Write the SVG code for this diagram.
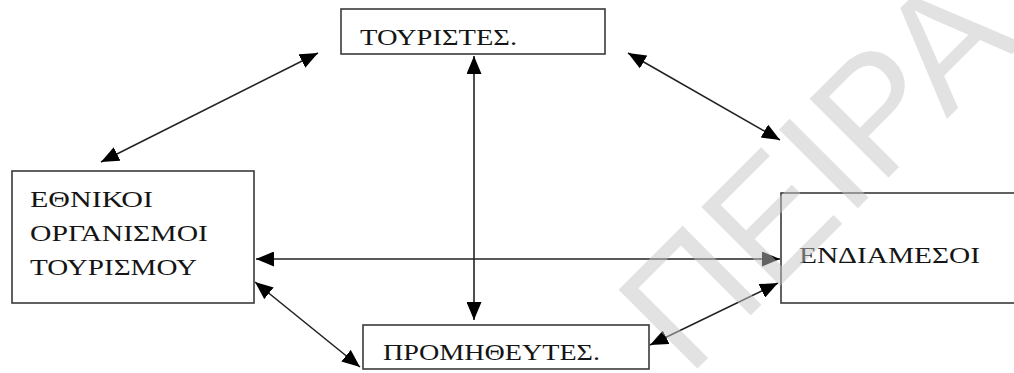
<svg xmlns="http://www.w3.org/2000/svg" width="1014" height="373" viewBox="0 0 1014 373">
<style>
.box{fill:none;stroke:#3a3a3a;stroke-width:1.6}
.lbl{font-family:"Liberation Serif","DejaVu Serif",serif;font-size:24px;fill:#151515}
.conn{stroke:#222;stroke-width:1.6;fill:none;marker-start:url(#ah);marker-end:url(#ah)}
.wm{font-family:"Liberation Sans","DejaVu Sans",sans-serif;font-size:162px;fill:#c5c5c5;fill-opacity:0.5}
</style>
<defs>
<marker id="ah" markerUnits="userSpaceOnUse" markerWidth="19" markerHeight="15" refX="18" refY="7.5" orient="auto-start-reverse" viewBox="0 0 19 15">
<path d="M0,0 L18,7.5 L0,15 Z" fill="#000"/>
</marker>
</defs>
<rect width="1014" height="373" fill="#fff"/>
<g id="connectors">
<line class="conn" x1="474" y1="56" x2="474" y2="320"/>
<line class="conn" x1="256" y1="259" x2="780" y2="259"/>
<line class="conn" x1="101" y1="162" x2="318" y2="53"/>
<line class="conn" x1="628" y1="53" x2="780" y2="140"/>
<line class="conn" x1="255" y1="282" x2="360" y2="367"/>
<line class="conn" x1="650" y1="345" x2="778" y2="283"/>
</g>
<g id="node-touristes">
<rect class="box" x="341" y="9" width="264" height="45"/>
<text class="lbl" x="360" y="45" textLength="157" lengthAdjust="spacingAndGlyphs">ΤΟΥΡΙΣΤΕΣ.</text>
</g>
<g id="node-ethnikoi">
<rect class="box" x="12" y="171" width="242" height="132"/>
<text class="lbl" x="30" y="207" textLength="123" lengthAdjust="spacingAndGlyphs">ΕΘΝΙΚΟΙ</text>
<text class="lbl" x="30" y="241" textLength="178" lengthAdjust="spacingAndGlyphs">ΟΡΓΑΝΙΣΜΟΙ</text>
<text class="lbl" x="30" y="275" textLength="167" lengthAdjust="spacingAndGlyphs">ΤΟΥΡΙΣΜΟΥ</text>
</g>
<g id="node-endiamesoi">
<rect class="box" x="781" y="193" width="250" height="110"/>
<text class="lbl" x="799" y="263" textLength="181" lengthAdjust="spacingAndGlyphs">ΕΝΔΙΑΜΕΣΟΙ</text>
</g>
<g id="node-promitheftes">
<rect class="box" x="363" y="325" width="286" height="44"/>
<text class="lbl" x="383" y="360" textLength="217" lengthAdjust="spacingAndGlyphs">ΠΡΟΜΗΘΕΥΤΕΣ.</text>
</g>
<text class="wm" transform="translate(688,378) rotate(-45)">ΠΕΙΡΑ</text>
</svg>
